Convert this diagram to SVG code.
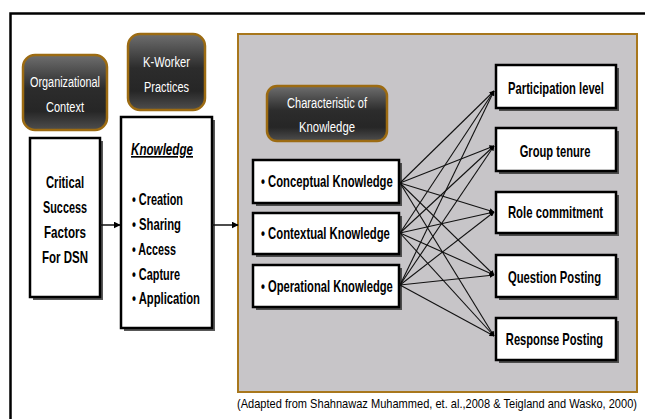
<svg xmlns="http://www.w3.org/2000/svg" width="646" height="419" viewBox="0 0 646 419">
<defs>
<linearGradient id="pill" x1="0" y1="0" x2="0" y2="1">
<stop offset="0" stop-color="#6e6e6e"/>
<stop offset="0.45" stop-color="#2c2c2c"/>
<stop offset="0.75" stop-color="#262626"/>
<stop offset="1" stop-color="#4e4e4e"/>
</linearGradient>
<marker id="ah" viewBox="0 0 10 10" refX="9" refY="5" markerWidth="5" markerHeight="5" orient="auto" markerUnits="userSpaceOnUse">
<path d="M0,0 L10,5 L0,10 z" fill="#000"/>
</marker>
<marker id="ah2" viewBox="0 0 10 10" refX="9" refY="5" markerWidth="7" markerHeight="7" orient="auto" markerUnits="userSpaceOnUse">
<path d="M0,0 L10,5 L0,10 z" fill="#000"/>
</marker>
</defs>
<style>
.pill{fill:url(#pill);stroke:#9c6b12;stroke-width:2.5}
.pt{font-family:"Liberation Sans",Arial,sans-serif;font-size:15.5px;fill:#fff;text-anchor:middle}
.box{fill:#fff;stroke:#000;stroke-width:2.5}
.sh{fill:#2e2e2e;opacity:0.8}
.bt{font-family:"Liberation Sans",Arial,sans-serif;font-size:16.5px;font-weight:bold;fill:#000}
.mid{text-anchor:middle}
.con line{stroke:#111;stroke-width:1.1;marker-end:url(#ah)}
</style>
<rect width="646" height="419" fill="#fff"/>
<path d="M10.5,419 V13.5 H645" fill="none" stroke="#000" stroke-width="2.5"/>

<g id="gray-panel">
<rect x="238" y="34" width="399" height="358" fill="#c7c5c8" stroke="#a8771c" stroke-width="2"/>
</g>

<g id="org-context">
<rect class="pill" x="23" y="55" width="84" height="75" rx="12"/>
<text class="pt" x="65" y="87" textLength="70" lengthAdjust="spacingAndGlyphs">Organizational</text>
<text class="pt" x="65" y="112" textLength="38" lengthAdjust="spacingAndGlyphs">Context</text>
</g>

<g id="kworker">
<rect class="pill" x="128" y="34" width="77" height="76" rx="12"/>
<text class="pt" x="166.5" y="67" textLength="47" lengthAdjust="spacingAndGlyphs">K-Worker</text>
<text class="pt" x="166.5" y="92" textLength="45" lengthAdjust="spacingAndGlyphs">Practices</text>
</g>

<g id="char-knowledge">
<rect class="pill" x="267" y="86" width="120" height="55" rx="10"/>
<text class="pt" x="327" y="108" textLength="80" lengthAdjust="spacingAndGlyphs">Characteristic of</text>
<text class="pt" x="327" y="132" textLength="56" lengthAdjust="spacingAndGlyphs">Knowledge</text>
</g>

<g id="csf">
<rect class="sh" x="33" y="141" width="70" height="159"/>
<rect class="box" x="30" y="138" width="70" height="159"/>
<text class="bt mid" x="65" y="188" font-size="17.5" textLength="38" lengthAdjust="spacingAndGlyphs">Critical</text>
<text class="bt mid" x="65" y="213" font-size="17.5" textLength="44" lengthAdjust="spacingAndGlyphs">Success</text>
<text class="bt mid" x="65" y="238" font-size="17.5" textLength="42" lengthAdjust="spacingAndGlyphs">Factors</text>
<text class="bt mid" x="65" y="263" font-size="17.5" textLength="46" lengthAdjust="spacingAndGlyphs">For DSN</text>
</g>

<g id="knowledge">
<rect class="sh" x="124" y="120" width="91" height="211"/>
<rect class="box" x="121" y="117" width="91" height="211"/>
<text class="bt" x="131" y="155" font-style="italic" text-decoration="underline" textLength="62" lengthAdjust="spacingAndGlyphs">Knowledge</text>
<text class="bt" x="132" y="205" textLength="51" lengthAdjust="spacingAndGlyphs">• Creation</text>
<text class="bt" x="132" y="230" textLength="49" lengthAdjust="spacingAndGlyphs">• Sharing</text>
<text class="bt" x="132" y="255" textLength="44" lengthAdjust="spacingAndGlyphs">• Access</text>
<text class="bt" x="132" y="280" textLength="48" lengthAdjust="spacingAndGlyphs">• Capture</text>
<text class="bt" x="132" y="304" textLength="68" lengthAdjust="spacingAndGlyphs">• Application</text>
</g>

<g id="conceptual">
<rect class="sh" x="256" y="163" width="146" height="43"/>
<rect class="box" x="253" y="160" width="146" height="43"/>
<text class="bt" transform="translate(261,187) scale(0.72,1)" textLength="183" lengthAdjust="spacingAndGlyphs">• Conceptual Knowledge</text>
</g>
<g id="contextual">
<rect class="sh" x="256" y="216" width="146" height="41"/>
<rect class="box" x="253" y="213" width="146" height="41"/>
<text class="bt" transform="translate(261,239) scale(0.72,1)" textLength="179" lengthAdjust="spacingAndGlyphs">• Contextual Knowledge</text>
</g>
<g id="operational">
<rect class="sh" x="256" y="268" width="146" height="42"/>
<rect class="box" x="253" y="265" width="146" height="42"/>
<text class="bt" transform="translate(261,292) scale(0.72,1)" textLength="183" lengthAdjust="spacingAndGlyphs">• Operational Knowledge</text>
</g>

<g id="participation">
<rect class="sh" x="499" y="68" width="120" height="43"/>
<rect class="box" x="496" y="65" width="120" height="43"/>
<text class="bt mid" transform="translate(556,94) scale(0.7,1)" textLength="137" lengthAdjust="spacingAndGlyphs">Participation level</text>
</g>
<g id="tenure">
<rect class="sh" x="499" y="131" width="120" height="43"/>
<rect class="box" x="496" y="128" width="120" height="43"/>
<text class="bt mid" transform="translate(555,157) scale(0.7,1)" textLength="101" lengthAdjust="spacingAndGlyphs">Group tenure</text>
</g>
<g id="role">
<rect class="sh" x="499" y="195" width="120" height="41"/>
<rect class="box" x="496" y="192" width="120" height="41"/>
<text class="bt mid" transform="translate(555.5,218) scale(0.7,1)" textLength="136" lengthAdjust="spacingAndGlyphs">Role commitment</text>
</g>
<g id="question">
<rect class="sh" x="499" y="258" width="120" height="42"/>
<rect class="box" x="496" y="255" width="120" height="42"/>
<text class="bt mid" transform="translate(554.5,283) scale(0.7,1)" textLength="133" lengthAdjust="spacingAndGlyphs">Question Posting</text>
</g>
<g id="response">
<rect class="sh" x="499" y="321" width="120" height="42"/>
<rect class="box" x="496" y="318" width="120" height="42"/>
<text class="bt mid" transform="translate(554.5,345) scale(0.7,1)" textLength="139" lengthAdjust="spacingAndGlyphs">Response Posting</text>
</g>

<g id="connectors" class="con">
<line x1="100" y1="225" x2="120" y2="225" style="marker-end:url(#ah2);stroke-width:1.5"/>
<line x1="212" y1="225" x2="238" y2="225" style="marker-end:url(#ah2);stroke-width:1.5"/>
<line x1="400" y1="183" x2="494" y2="91"/>
<line x1="400" y1="183" x2="494" y2="146"/>
<line x1="400" y1="183" x2="494" y2="212"/>
<line x1="400" y1="183" x2="494" y2="275"/>
<line x1="400" y1="183" x2="494" y2="336"/>
<line x1="400" y1="233" x2="494" y2="91"/>
<line x1="400" y1="233" x2="494" y2="146"/>
<line x1="400" y1="233" x2="494" y2="212"/>
<line x1="400" y1="233" x2="494" y2="275"/>
<line x1="400" y1="233" x2="494" y2="336"/>
<line x1="400" y1="285" x2="494" y2="91"/>
<line x1="400" y1="285" x2="494" y2="146"/>
<line x1="400" y1="285" x2="494" y2="212"/>
<line x1="400" y1="285" x2="494" y2="275"/>
<line x1="400" y1="285" x2="494" y2="336"/>
</g>

<text transform="translate(237,408) scale(0.8,1)" font-family="'Liberation Sans',Arial,sans-serif" font-size="13" fill="#000" textLength="500" lengthAdjust="spacingAndGlyphs">(Adapted from Shahnawaz Muhammed, et. al.,2008 &amp; Teigland and Wasko, 2000)</text>
</svg>
